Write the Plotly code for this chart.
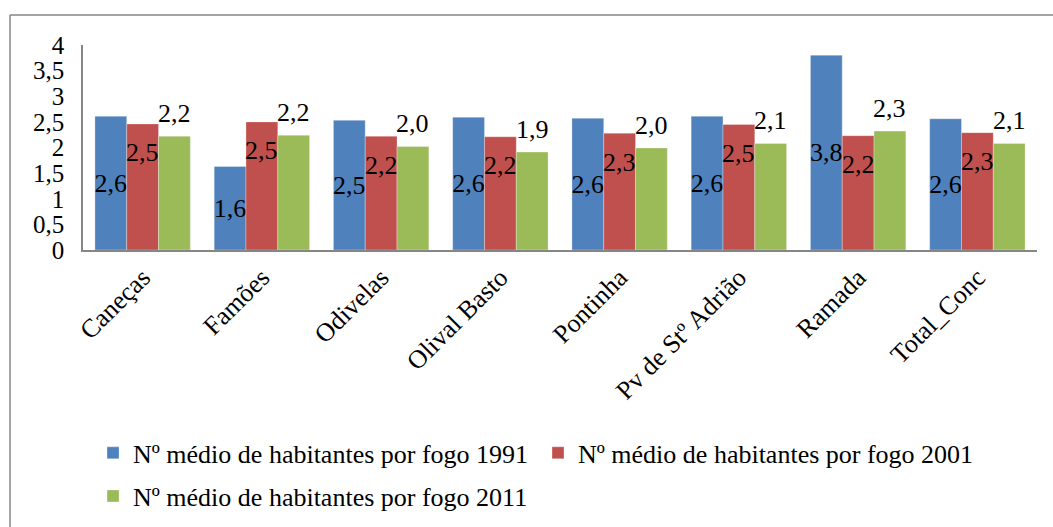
import plotly.graph_objects as go

# ------------------------ DATA ------------------------------------
freguesias = ['Caneças', 'Famões', 'Odivelas', 'Olival Basto', 'Pontinha',
              'Pv de Stº Adrião', 'Ramada', 'Total_Conc']
media_1991 = [2.61, 1.63, 2.53, 2.59, 2.57, 2.61, 3.80, 2.56]
media_2001 = [2.46, 2.50, 2.22, 2.21, 2.28, 2.45, 2.23, 2.29]
media_2011 = [2.22, 2.24, 2.02, 1.91, 1.99, 2.08, 2.32, 2.08]
nomes = ['Nº médio de habitantes por fogo 1991',
         'Nº médio de habitantes por fogo 2001',
         'Nº médio de habitantes por fogo 2011']

FONT = 'Liberation Serif, Times New Roman, serif'
COR_1991 = '#4F81BD'
COR_2001 = '#C0504D'
COR_2011 = '#9BBB59'
BARGAP = 0.2


def rotulo(v):
    return f'{v:.1f}'.replace('.', ',')


# ------------------------ PLOT ------------------------------------
fig = go.Figure()

contorno = dict(color='rgba(255,255,255,0.6)', width=0.5)
fig.add_trace(go.Bar(
    x=freguesias, y=media_1991, name=nomes[0],
    marker=dict(color=COR_1991, line=contorno),
    text=[rotulo(v) for v in media_1991],
    textposition='inside', insidetextanchor='middle',
    textangle=0, constraintext='none',
    textfont=dict(family=FONT, size=26, color='black'),
    legend='legend'
))
fig.add_trace(go.Bar(
    x=freguesias, y=media_2001, name=nomes[1],
    marker=dict(color=COR_2001, line=contorno),
    legend='legend'
))
fig.add_trace(go.Bar(
    x=freguesias, y=media_2011, name=nomes[2],
    marker=dict(color=COR_2011, line=contorno),
    legend='legend2'
))

fonte_rotulo = dict(family=FONT, size=26, color='black')
# rotulos da serie 2001 (um pouco abaixo do topo da barra, barra central)
for f, v in zip(freguesias, media_2001):
    fig.add_annotation(x=f, y=v, text=rotulo(v), showarrow=False,
                       yanchor='middle', yshift=-29, font=fonte_rotulo)

# rotulos da serie 2011 (acima da barra, terceira barra do grupo)
largura_barra = (1 - BARGAP) / 3
for i, v in enumerate(media_2011):
    fig.add_annotation(x=i + largura_barra, y=v, text=rotulo(v), showarrow=False,
                       yanchor='middle', yshift=23, font=fonte_rotulo)

# moldura do grafico (so topo e esquerda visiveis)
moldura = dict(type='line', xref='paper', yref='paper',
               line=dict(color='#868686', width=1.5))
fig.add_shape(x0=-0.0765, x1=1.02, y0=1.146, y1=1.146, **moldura)
fig.add_shape(x0=-0.0765, x1=-0.0765, y0=1.146, y1=-1.36, **moldura)

fig.update_layout(
    width=1053, height=527,
    margin=dict(l=83, r=16, t=45, b=277, autoexpand=False),
    paper_bgcolor='white', plot_bgcolor='white',
    barmode='group', bargap=BARGAP, bargroupgap=0,
    separators=', ',
    font=dict(family=FONT, size=26, color='black'),
    showlegend=True,
    legend=dict(orientation='h', x=0.0105, xanchor='left', y=-0.99, yanchor='middle',
                font=dict(family=FONT, size=26, color='black'),
                bgcolor='rgba(0,0,0,0)', entrywidth=400),
    legend2=dict(orientation='h', x=0.0105, xanchor='left', y=-1.20, yanchor='middle',
                 font=dict(family=FONT, size=26, color='black'),
                 bgcolor='rgba(0,0,0,0)'),
    xaxis=dict(
        showline=True, linecolor='#868686', linewidth=2,
        tickangle=-45, ticks='', showgrid=False, automargin=False,
        tickfont=dict(family=FONT, size=26, color='black')
    ),
    yaxis=dict(
        range=[0, 4], dtick=0.5, tick0=0,
        showline=True, linecolor='#868686', linewidth=1.5,
        ticks='', showgrid=False, zeroline=False, automargin=False,
        ticklabelstandoff=12,
        tickfont=dict(family=FONT, size=25, color='black')
    )
)

# sem margem do body para o grafico ficar no canto da pagina
fig.write_html("out.html", config={'displayModeBar': False},
               post_script="document.body.style.margin='0';")
